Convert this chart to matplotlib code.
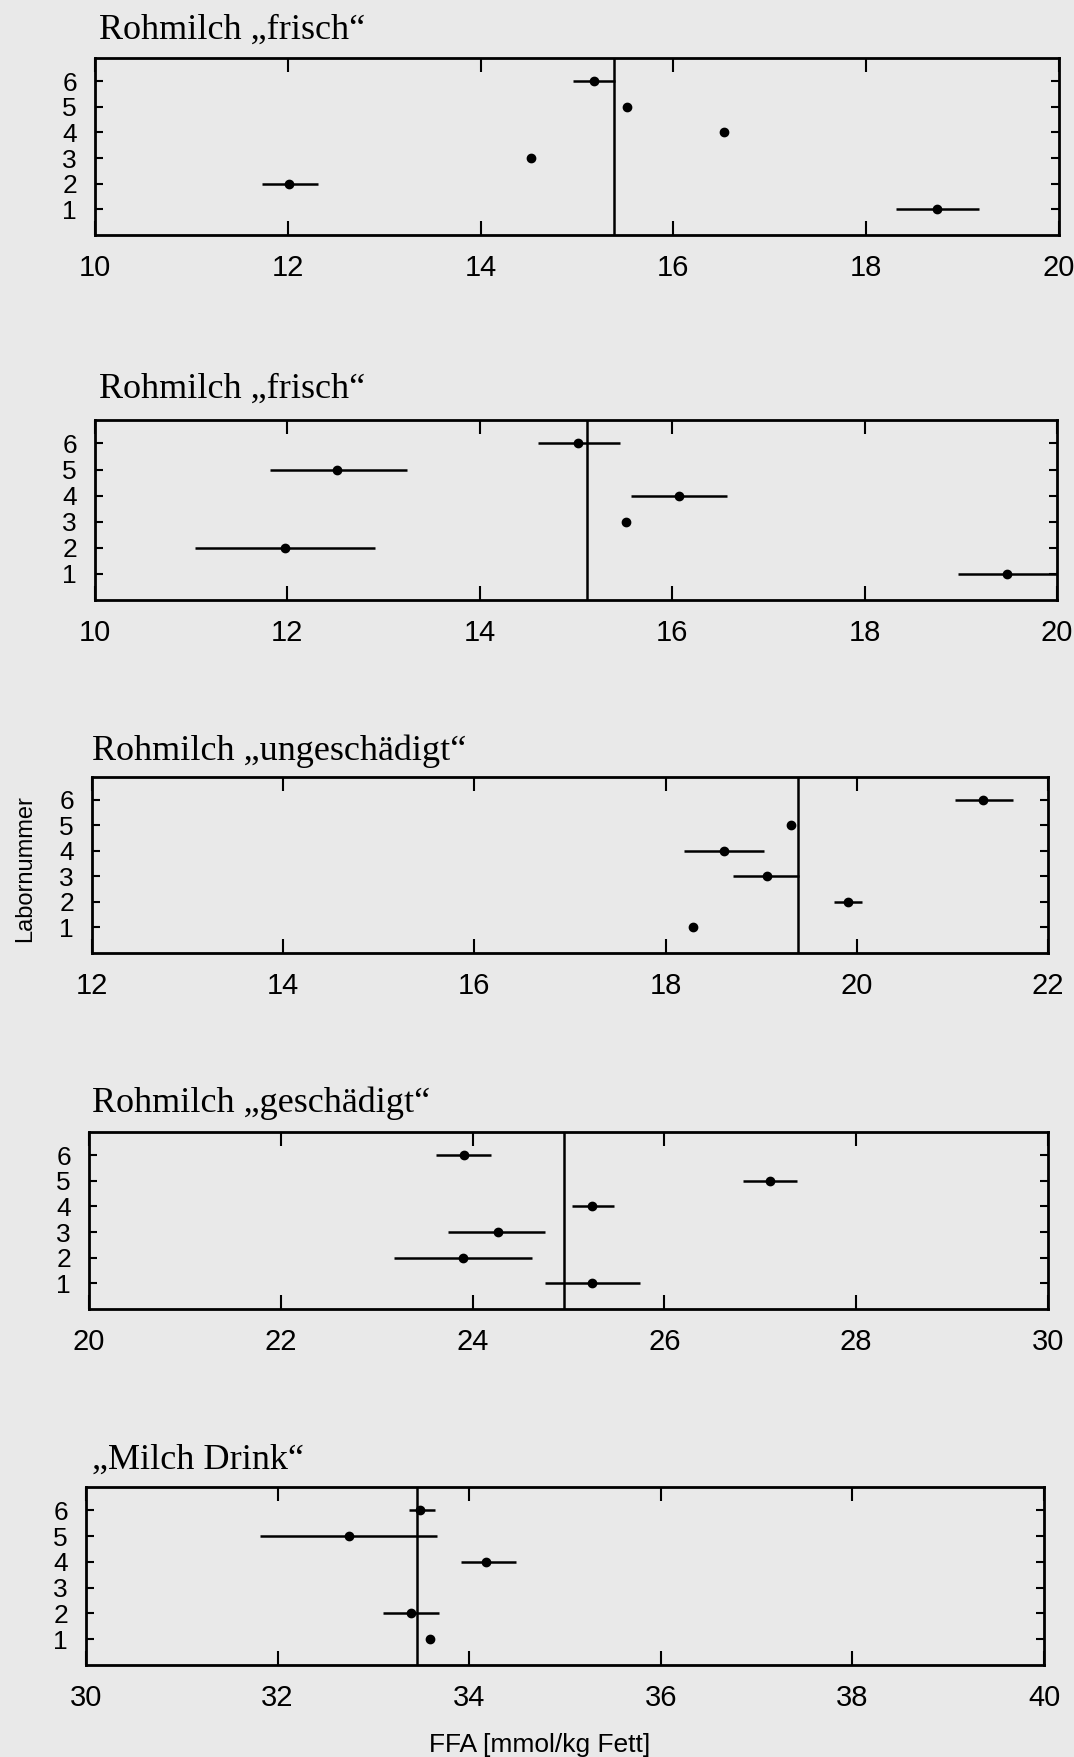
import numpy as np
import matplotlib.pyplot as plt

W, H = 1074, 1757
BG = '#e9e9e9'

labs = [1, 2, 3, 4, 5, 6]

# panel 1: Rohmilch "frisch"
p1_mean = [18.73, 12.01, 14.52, 16.53, 15.52, 15.18]
p1_lo = [18.31, 11.73, 14.52, 16.53, 15.52, 14.96]
p1_hi = [19.17, 12.31, 14.52, 16.53, 15.52, 15.39]
p1_ref = 15.38

# panel 2: Rohmilch "frisch" (second run)
p2_mean = [19.48, 11.98, 15.52, 16.07, 12.52, 15.02]
p2_lo = [18.97, 11.04, 15.52, 15.57, 11.82, 14.60]
p2_hi = [20.00, 12.91, 15.52, 16.57, 13.24, 15.46]
p2_ref = 15.11

# panel 3: Rohmilch "ungeschaedigt"
p3_mean = [18.29, 19.91, 19.06, 18.61, 19.31, 21.32]
p3_lo = [18.29, 19.76, 18.70, 18.19, 19.31, 21.03]
p3_hi = [18.29, 20.05, 19.40, 19.03, 19.31, 21.63]
p3_ref = 19.38

# panel 4: Rohmilch "geschaedigt"
p4_mean = [25.24, 23.90, 24.26, 25.25, 27.10, 23.91]
p4_lo = [24.75, 23.18, 23.74, 25.04, 26.82, 23.62]
p4_hi = [25.75, 24.62, 24.75, 25.47, 27.38, 24.19]
p4_ref = 24.95

# panel 5: Milch Drink (lab 3 missing)
p5_mean = [33.59, 33.39, np.nan, 34.18, 32.75, 33.49]
p5_lo = [33.59, 33.10, np.nan, 33.91, 31.82, 33.37]
p5_hi = [33.59, 33.68, np.nan, 34.49, 33.66, 33.64]
p5_ref = 33.46

titles = ['Rohmilch \u201efrisch\u201c', 'Rohmilch \u201efrisch\u201c',
          'Rohmilch \u201eungesch\u00e4digt\u201c', 'Rohmilch \u201egesch\u00e4digt\u201c',
          '\u201eMilch Drink\u201c']
xlims = [(10, 20), (10, 20), (12, 22), (20, 30), (30, 40)]

panels = [(p1_mean, p1_lo, p1_hi, p1_ref), (p2_mean, p2_lo, p2_hi, p2_ref),
          (p3_mean, p3_lo, p3_hi, p3_ref), (p4_mean, p4_lo, p4_hi, p4_ref),
          (p5_mean, p5_lo, p5_hi, p5_ref)]

# axes boxes in pixels: left, right, top, bottom ; title x, baseline y
boxes = [(95, 1059, 58, 235), (95, 1057, 420, 600), (92, 1048, 777, 953),
         (89, 1048, 1132, 1309), (86, 1044, 1487, 1665)]
title_pos = [(99, 39), (99, 398), (92, 760), (92, 1112), (92, 1469)]

SANS = ['Liberation Sans', 'DejaVu Sans']
SERIF = ['Liberation Serif', 'DejaVu Serif']

fig = plt.figure(figsize=(W / 100, H / 100), dpi=100, facecolor=BG)

for i, (mean, lo, hi, ref) in enumerate(panels):
    l, r, t, b = boxes[i]
    ax = fig.add_axes([l / W, 1 - b / H, (r - l) / W, (b - t) / H])
    ax.set_facecolor(BG)
    mean = np.array(mean)
    err = [mean - np.array(lo), np.array(hi) - mean]
    ax.errorbar(mean, labs, xerr=err, fmt='o', color='black', ms=6,
                elinewidth=1.8, capsize=0)
    ax.axvline(ref, color='black', lw=1.8)
    ax.set_xlim(*xlims[i])
    ax.set_ylim(0, 6.9)
    lo_x, hi_x = xlims[i]
    ax.set_xticks(np.arange(lo_x, hi_x + 1, 2))
    ax.set_yticks(labs)
    ax.tick_params(axis='x', direction='in', top=True, bottom=True, length=10,
                   width=1.5, pad=14, labelsize=21)
    ax.tick_params(axis='y', direction='in', left=True, right=True, length=6,
                   width=1.5, pad=13, labelsize=19)
    for lab in ax.get_xticklabels() + ax.get_yticklabels():
        lab.set_family(SANS)
    for s in ax.spines.values():
        s.set_linewidth(2)
    tx, ty = title_pos[i]
    fig.text(tx / W, 1 - ty / H, titles[i], family=SERIF, fontsize=26,
             va='baseline', ha='left')

fig.text(25 / W, 1 - 869 / H, 'Labornummer', family=SANS, fontsize=17,
         rotation=90, va='center', ha='center')
fig.text(540 / W, 1 - 1745 / H, 'FFA [mmol/kg Fett]', family=SANS, fontsize=19,
         va='center', ha='center')

fig.savefig('out.png', dpi=100, facecolor=BG)
